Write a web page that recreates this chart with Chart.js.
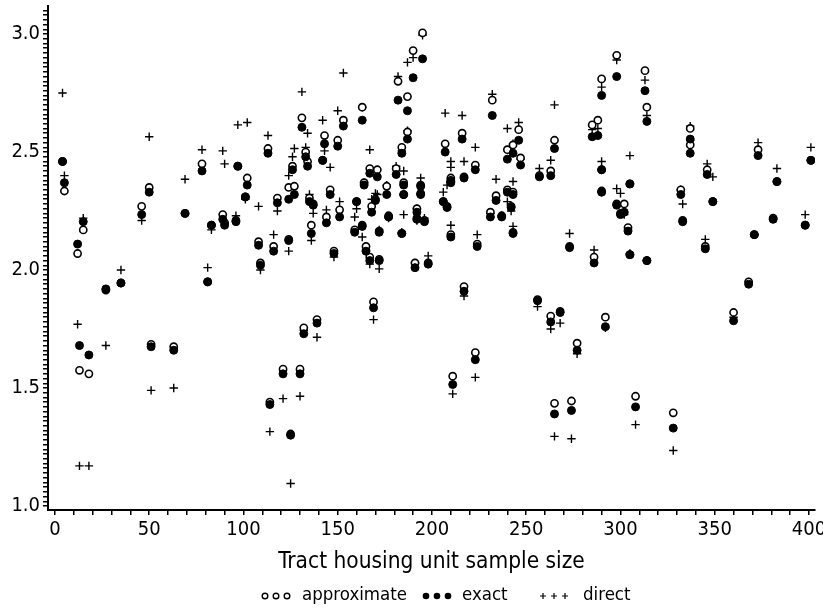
<!DOCTYPE html>
<html>
<head>
<meta charset="utf-8">
<script src="https://cdn.jsdelivr.net/npm/chart.js@4.4.0/dist/chart.umd.min.js"></script>
<style>
  html, body { margin: 0; padding: 0; background: #fff; }
  #wrap { width: 823px; height: 610px; }
</style>
</head>
<body>
<div id="wrap"><canvas id="chart" width="823" height="610"></canvas></div>
<script>
// tract sample sizes and the three variance estimates
const sampleSize = [4, 5, 12, 13, 15, 18, 27, 35, 46, 50, 51, 63, 69, 78, 81, 83, 89, 90, 96, 97,
  101, 102, 108, 109, 113, 114, 116, 118, 121, 124, 124, 125, 126, 127, 130, 131, 132, 133, 134, 135,
  136, 137, 139, 142, 143, 144, 146, 148, 150, 151, 153, 159, 160, 163, 163, 164, 165, 167, 167, 168,
  169, 170, 171, 172, 172, 176, 177, 181, 182, 184, 185, 185, 184, 187, 187, 190, 191, 192, 192, 194,
  194, 195, 196, 198, 206, 207, 208, 210, 210, 210, 211, 216, 217, 217, 223, 224, 223, 231, 232, 234,
  237, 240, 240, 242, 243, 243, 243, 246, 247, 256, 257, 263, 263, 265, 265, 268, 273, 274, 277, 285,
  286, 288, 290, 290, 290, 292, 298, 298, 300, 302, 304, 305, 305, 308, 313, 314, 314, 328, 332, 333,
  337, 337, 345, 346, 349, 360, 368, 371, 373, 381, 383, 398, 401]

const approximate = [2.46, 2.335, 2.07, 1.575, 2.17, 1.56, 1.915, 1.945, 2.27, 2.35, 1.685, 1.675, 2.24, 2.45, 1.95, 2.19, 2.235, 2.20, 2.21, 2.44,
  2.31, 2.39, 2.12, 2.03, 2.515, 1.44, 2.10, 2.305, 1.58, 2.35, 2.13, 1.305, 2.44, 2.355, 1.58, 2.645, 1.755, 2.50, 2.46, 2.305,
  2.19, 2.28, 1.79, 2.465, 2.57, 2.225, 2.34, 2.08, 2.55, 2.255, 2.635, 2.17, 2.29, 2.69, 2.19, 2.37, 2.10, 2.43, 2.055, 2.27,
  1.865, 2.30, 2.425, 2.165, 2.045, 2.355, 2.23, 2.43, 2.80, 2.52, 2.37, 2.32, 2.155, 2.735, 2.585, 2.93, 2.03, 2.26, 2.22, 2.36,
  2.325, 3.005, 2.21, 2.03, 2.29, 2.535, 2.27, 2.39, 2.38, 2.15, 1.55, 2.58, 2.395, 1.93, 2.445, 2.11, 1.65, 2.245, 2.72, 2.315,
  2.23, 2.51, 2.34, 2.27, 2.53, 2.33, 2.16, 2.595, 2.475, 1.875, 2.40, 2.42, 1.805, 2.55, 1.435, 1.825, 2.10, 1.445, 1.69, 2.615,
  2.055, 2.635, 2.81, 2.425, 2.335, 1.80, 2.91, 2.28, 2.24, 2.28, 2.18, 2.365, 2.065, 1.465, 2.845, 2.04, 2.69, 1.395, 2.34, 2.21,
  2.60, 2.53, 2.10, 2.425, 2.29, 1.82, 1.95, 2.15, 2.51, 2.22, 2.375, 2.19, 2.465]

const exact = [2.46, 2.37, 2.11, 1.68, 2.205, 1.64, 1.92, 1.945, 2.235, 2.33, 1.675, 1.66, 2.24, 2.42, 1.95, 2.19, 2.215, 2.19, 2.205, 2.44,
  2.31, 2.36, 2.105, 2.02, 2.495, 1.43, 2.08, 2.285, 1.56, 2.30, 2.125, 1.30, 2.425, 2.32, 1.56, 2.605, 1.73, 2.48, 2.44, 2.29,
  2.155, 2.275, 1.775, 2.465, 2.535, 2.20, 2.32, 2.07, 2.525, 2.225, 2.61, 2.16, 2.29, 2.635, 2.185, 2.36, 2.08, 2.41, 2.04, 2.245,
  1.84, 2.295, 2.395, 2.16, 2.04, 2.32, 2.225, 2.405, 2.72, 2.495, 2.36, 2.32, 2.155, 2.675, 2.555, 2.815, 2.01, 2.245, 2.215, 2.355,
  2.32, 2.895, 2.205, 2.025, 2.29, 2.50, 2.265, 2.37, 2.375, 2.14, 1.515, 2.555, 2.39, 1.91, 2.425, 2.10, 1.62, 2.225, 2.655, 2.295,
  2.225, 2.47, 2.33, 2.265, 2.495, 2.32, 2.155, 2.55, 2.445, 1.87, 2.395, 2.40, 1.78, 2.515, 1.39, 1.82, 2.095, 1.405, 1.66, 2.565,
  2.03, 2.57, 2.74, 2.425, 2.33, 1.76, 2.82, 2.275, 2.235, 2.245, 2.165, 2.365, 2.065, 1.42, 2.76, 2.04, 2.63, 1.33, 2.32, 2.205,
  2.555, 2.495, 2.09, 2.405, 2.29, 1.785, 1.94, 2.15, 2.485, 2.215, 2.375, 2.19, 2.465]

const direct = [2.75, 2.40, 1.77, 1.17, 2.22, 1.17, 1.68, 2.00, 2.21, 2.565, 1.49, 1.50, 2.385, 2.51, 2.01, 2.17, 2.505, 2.45, 2.23, 2.615,
  2.30, 2.625, 2.27, 2.00, 2.57, 1.315, 2.15, 2.25, 1.455, 2.40, 2.08, 1.095, 2.48, 2.515, 1.465, 2.755, 1.745, 2.52, 2.58, 2.32,
  2.125, 2.24, 1.715, 2.635, 2.505, 2.255, 2.435, 2.055, 2.675, 2.29, 2.835, 2.225, 2.26, 2.69, 2.14, 2.37, 2.085, 2.51, 2.025, 2.30,
  1.79, 2.325, 2.32, 2.17, 2.005, 2.36, 2.22, 2.44, 2.82, 2.505, 2.42, 2.235, 2.16, 2.88, 2.59, 2.90, 2.03, 2.26, 2.21, 2.39,
  2.32, 2.995, 2.22, 2.06, 2.33, 2.665, 2.36, 2.46, 2.435, 2.19, 1.475, 2.655, 2.46, 1.89, 2.52, 2.15, 1.545, 2.24, 2.745, 2.385,
  2.23, 2.60, 2.29, 2.25, 2.535, 2.375, 2.185, 2.625, 2.47, 1.845, 2.43, 2.465, 1.75, 2.70, 1.295, 1.775, 2.155, 1.285, 1.645, 2.595,
  2.085, 2.60, 2.775, 2.46, 2.33, 1.755, 2.89, 2.345, 2.325, 2.235, 2.17, 2.485, 2.07, 1.345, 2.805, 2.04, 2.655, 1.235, 2.34, 2.28,
  2.61, 2.55, 2.13, 2.45, 2.395, 1.80, 1.95, 2.15, 2.54, 2.22, 2.43, 2.235, 2.52]

const seriesNames = ['approximate', 'exact', 'direct']
const xLabelStep = 50
const yLabelStep = 0.5

const FONT = "'DejaVu Sans Condensed', 'Liberation Sans Narrow', 'Liberation Sans', Arial, sans-serif"

const toPoints = ys => sampleSize.map((x, i) => ({ x: x, y: ys[i] }))

// evenly spaced tick marks between lo and hi
const tickRange = (lo, hi, step) => {
  const out = []
  const n = Math.round((hi - lo) / step)
  for (let i = 0; i <= n; i++) out.push({ value: +(lo + i * step).toFixed(4) })
  return out
}

const isMultiple = (v, step) => Math.abs(v / step - Math.round(v / step)) < 1e-6

// labels may hang over the plot edges, so don't let them shrink it
const noEdgePadding = s => {
  s.paddingTop = 0
  s.paddingBottom = 0
  s.paddingLeft = 0
  s.paddingRight = 0
}

const approxStyle = { pointStyle: 'circle', pointRadius: 3.6, pointBackgroundColor: '#fff', pointBorderColor: '#000', pointBorderWidth: 1.6 }
const exactStyle = { pointStyle: 'circle', pointRadius: 4, pointBackgroundColor: '#000', pointBorderColor: '#000', pointBorderWidth: 1 }
const directStyle = { pointStyle: 'cross', pointRadius: 4.2, pointBackgroundColor: '#000', pointBorderColor: '#000', pointBorderWidth: 1.4 }

// legend like the original: three small symbols before each name
const tripleLegend = {
  id: 'tripleLegend',
  afterDraw(chart) {
    const ctx = chart.ctx
    const y = 595
    ctx.save()
    ctx.font = '18.5px ' + FONT
    ctx.fillStyle = '#000'
    ctx.strokeStyle = '#000'
    ctx.textBaseline = 'middle'
    const items = [
      { x: 265, textX: 302, kind: 'open', label: seriesNames[0] },
      { x: 426, textX: 462, kind: 'filled', label: seriesNames[1] },
      { x: 543, textX: 583, kind: 'plus', label: seriesNames[2] }
    ]
    items.forEach(it => {
      for (let k = 0; k < 3; k++) {
        const cx = it.x + k * 11
        ctx.beginPath()
        if (it.kind === 'open') {
          ctx.lineWidth = 1.4
          ctx.arc(cx, y + 1, 2.8, 0, Math.PI * 2)
          ctx.stroke()
        } else if (it.kind === 'filled') {
          ctx.arc(cx, y + 1, 3.3, 0, Math.PI * 2)
          ctx.fill()
        } else {
          ctx.lineWidth = 1.2
          ctx.moveTo(cx - 3, y + 1); ctx.lineTo(cx + 3, y + 1)
          ctx.moveTo(cx, y - 2); ctx.lineTo(cx, y + 4)
          ctx.stroke()
        }
      }
      ctx.fillText(it.label, it.textX, y)
    })
    ctx.restore()
  }
}

const ctx = document.getElementById('chart').getContext('2d')
const chart = new Chart(ctx, {
  type: 'scatter',
  data: {
    datasets: [
      Object.assign({ label: seriesNames[1], data: toPoints(exact) }, exactStyle),
      Object.assign({ label: seriesNames[0], data: toPoints(approximate) }, approxStyle),
      Object.assign({ label: seriesNames[2], data: toPoints(direct) }, directStyle)
    ]
  },
  options: {
    responsive: false,
    animation: false,
    layout: { padding: { left: 0, right: 8, top: 6, bottom: 34 } },
    plugins: {
      legend: { display: false },
      tooltip: { enabled: false }
    },
    scales: {
      x: {
        type: 'linear',
        min: -3.7,
        max: 403.2,
        afterBuildTicks: s => { s.ticks = tickRange(0, 400, 10) },
        afterFit: s => { s.height = 66; noEdgePadding(s) },
        ticks: {
          autoSkip: false,
          maxRotation: 0,
          padding: 3,
          color: '#000',
          font: { family: FONT, size: 20 },
          callback: v => isMultiple(v, xLabelStep) ? String(v) : ''
        },
        grid: { drawOnChartArea: false, drawTicks: true, tickLength: 5, color: '#000', lineWidth: 1.5 },
        border: { display: true, color: '#000', width: 2 },
        title: {
          display: true,
          text: 'Tract housing unit sample size',
          color: '#000',
          font: { family: FONT, size: 22.5 },
          padding: { top: 0, bottom: 0 }
        }
      },
      y: {
        type: 'linear',
        min: 0.983,
        max: 3.119,
        afterBuildTicks: s => { s.ticks = tickRange(1.0, 3.1, 0.02) },
        afterFit: s => { s.width = 48; noEdgePadding(s) },
        ticks: {
          autoSkip: false,
          padding: 3,
          color: '#000',
          font: { family: FONT, size: 20 },
          callback: v => isMultiple(v, yLabelStep) ? v.toFixed(1) : ''
        },
        grid: { drawOnChartArea: false, drawTicks: true, tickLength: 5, color: '#000', lineWidth: 1.5 },
        border: { display: true, color: '#000', width: 2 }
      }
    }
  },
  plugins: [tripleLegend]
})
</script>
</body>
</html>
